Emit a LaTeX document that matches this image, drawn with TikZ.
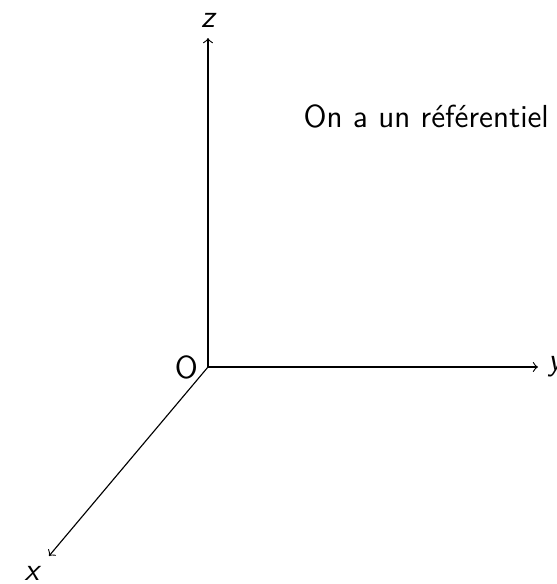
\documentclass[tikz,border=0pt]{standalone}
\usepackage{tikz}
\usetikzlibrary{positioning}
\renewcommand{\familydefault}{\sfdefault}

\begin{document}
\begin{tikzpicture}[every node/.style={font=\fontsize{11.2}{13.5}\selectfont}]
    % Fix the picture size (origin at O)
    \useasboundingbox (-2.569,-2.680) rectangle (4.298,4.533);
    % Origin and axis ends
    \coordinate (O) at (0,0);
    \coordinate (X) at (-1.964,-2.334);
    \coordinate (Y) at (4.076,0);
    \coordinate (Z) at (0,4.063);
    % Draw the axes
    \draw[->] (O) -- (X);
    \draw[->] (O) -- (Y);
    \draw[->] (O) -- (Z);
    % Axis labels
    \node[left] (lO) at (O) {O};
    \node[below left] (lX) at (X) {\itshape x};
    \node[right] (lY) at (Y) {\itshape y};
    \node[above] (lZ) at (Z) {\itshape z};
    % Text
    \node[anchor=base west,inner sep=0pt] (txt) at (1.173,2.952) {On a un référentiel};
\end{tikzpicture}
\end{document}
